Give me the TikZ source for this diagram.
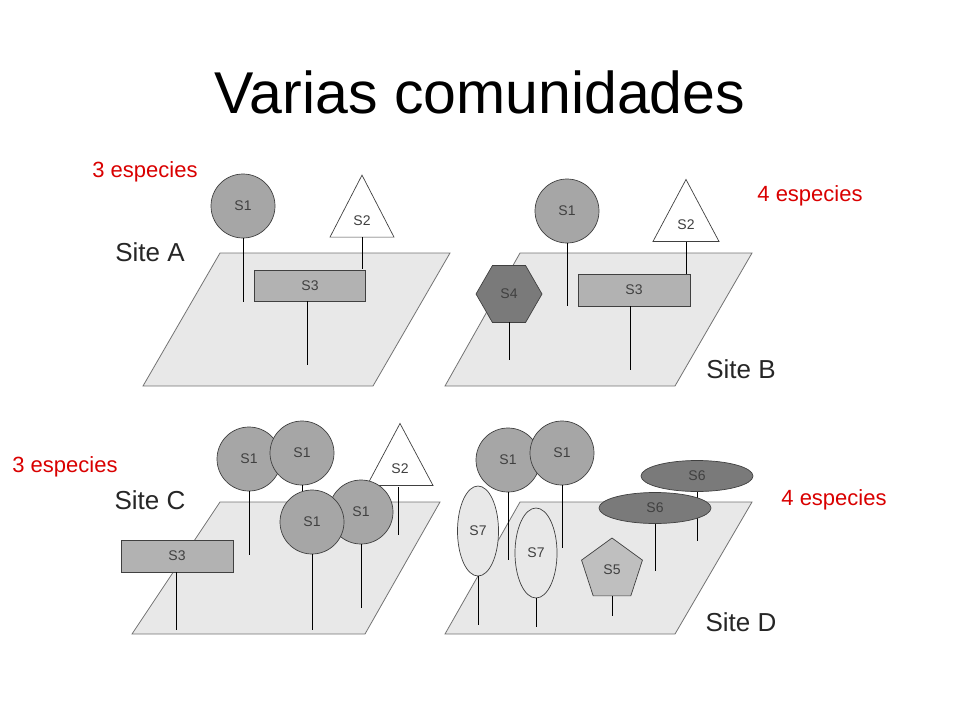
\documentclass[tikz,border=0pt]{standalone}
\usepackage{fontspec}
\setmainfont{Liberation Sans}
\usetikzlibrary{shapes.geometric}
\begin{document}
\begin{tikzpicture}[x=1pt,y=-1pt,
  plane/.style={fill=black!9,draw=black!55,line width=0.8pt},
  sp/.style={draw=black!75,line width=0.7pt,inner sep=0pt,font=\fontsize{14}{16}\selectfont,text=black!75},
  circ/.style={sp,ellipse,fill=black!35,minimum width=64,minimum height=64},
  tri/.style={sp,isosceles triangle,shape border rotate=90,isosceles triangle stretches,fill=white,minimum width=66,minimum height=62,anchor=center},
  rect/.style={sp,rectangle,fill=black!30,minimum width=111,minimum height=31},
  stem/.style={draw=black,line width=0.7pt},
  site/.style={font=\fontsize{26}{30}\selectfont,text=black!85},
  red/.style={font=\fontsize{22}{26}\selectfont,text=red!85!black}]
\useasboundingbox (0,0) rectangle (960,720);
\node[font=\fontsize{59}{70}\selectfont] (title) at (480,92) {Varias comunidades};
\node[red] (rA) at (145,172) {3 especies};
\node[red] (rB) at (810,196) {4 especies};
\node[red] (rC) at (65,467) {3 especies};
\node[red] (rD) at (834,500) {4 especies};
% planes
\draw[plane] (220,253) -- (450,253) -- (373,386) -- (143,386) -- cycle;
\draw[plane] (520,253) -- (752,253) -- (675,386) -- (445,386) -- cycle;
\draw[plane] (220,502) -- (440,502) -- (365,634) -- (132,634) -- cycle;
\draw[plane] (520,502) -- (752,502) -- (675,634) -- (445,634) -- cycle;
\node[site] (sA) at (150,252) {Site A};
\node[site] (sB) at (741,369) {Site B};
\node[site] (sC) at (150,500) {Site C};
\node[site] (sD) at (741,622) {Site D};
% Site A
\node[circ] (a1) at (243,206) {S1};
\draw[stem] (a1.south) -- ++(0,64) coordinate (a1e);
\node[tri,minimum width=64,minimum height=62] (a2) at (362,221) {\raisebox{-8pt}{S2}};
\draw[stem] (a2.south) -- ++(0,32) coordinate (a2e);
\node[rect] (a3) at (310,286) {S3};
\draw[stem] (307,301) -- (307,365) coordinate (a3e);
% Site B
\node[circ] (b1) at (567,211) {S1};
\draw[stem] (b1.south) -- ++(0,63) coordinate (b1e);
\node[tri] (b2) at (686,225) {\raisebox{-8pt}{S2}};
\draw[stem] (b2.south) -- ++(0,32) coordinate (b2e);
\node[rect,minimum width=112,minimum height=32] (b3) at (634,290) {S3};
\draw[stem] (630,306) -- (630,370) coordinate (b3e);
\node[sp,regular polygon,regular polygon sides=6,fill=black!52,minimum size=66] (b4) at (509,294) {S4};
\draw[stem] (509,322) -- (509,360) coordinate (b4e);
% Site C
\node[circ] (c1) at (249,459) {S1};
\draw[stem] (c1.south) -- ++(0,64) coordinate (c1e);
\node[circ] (c2) at (302,453) {S1};
\draw[stem] (c2.south) -- ++(0,15) coordinate (c2e);
\node[tri] (c5) at (400,469) {\raisebox{-8pt}{S2}};
\draw[stem] (398,487) -- (398,535) coordinate (c5e);
\node[circ] (c3) at (361,512) {S1};
\draw[stem] (c3.south) -- ++(0,64) coordinate (c3e);
\node[circ] (c4) at (312,522) {S1};
\draw[stem] (c4.south) -- ++(0,76) coordinate (c4e);
\node[rect,minimum width=112,minimum height=32] (c6) at (177,556) {S3};
\draw[stem] (176,572) -- (176,630) coordinate (c6e);
% Site D
\node[circ] (d1) at (508,460) {S1};
\draw[stem] (d1.south) -- ++(0,68) coordinate (d1e);
\node[circ] (d2) at (562,453) {S1};
\draw[stem] (d2.south) -- ++(0,63) coordinate (d2e);
\node[sp,ellipse,fill=black!9,minimum width=41,minimum height=90] (d3) at (478,531) {S7};
\draw[stem] (d3.south) -- ++(0,49) coordinate (d3e);
\node[sp,ellipse,fill=black!9,minimum width=42,minimum height=90] (d4) at (536,553) {S7};
\draw[stem] (d4.south) -- ++(0,29) coordinate (d4e);
\node[sp,ellipse,fill=black!52,minimum width=112,minimum height=31] (d5) at (697,476) {S6};
\draw[stem] (d5.south) -- ++(0,49) coordinate (d5e);
\node[sp,ellipse,fill=black!52,minimum width=112,minimum height=31] (d6) at (655,508) {S6};
\draw[stem] (d6.south) -- ++(0,47) coordinate (d6e);
\node[sp,regular polygon,regular polygon sides=5,fill=black!25,minimum size=64] (d7) at (612,570) {S5};
\draw[stem] (d7.south) -- ++(0,20) coordinate (d7e);
\end{tikzpicture}
\end{document}
